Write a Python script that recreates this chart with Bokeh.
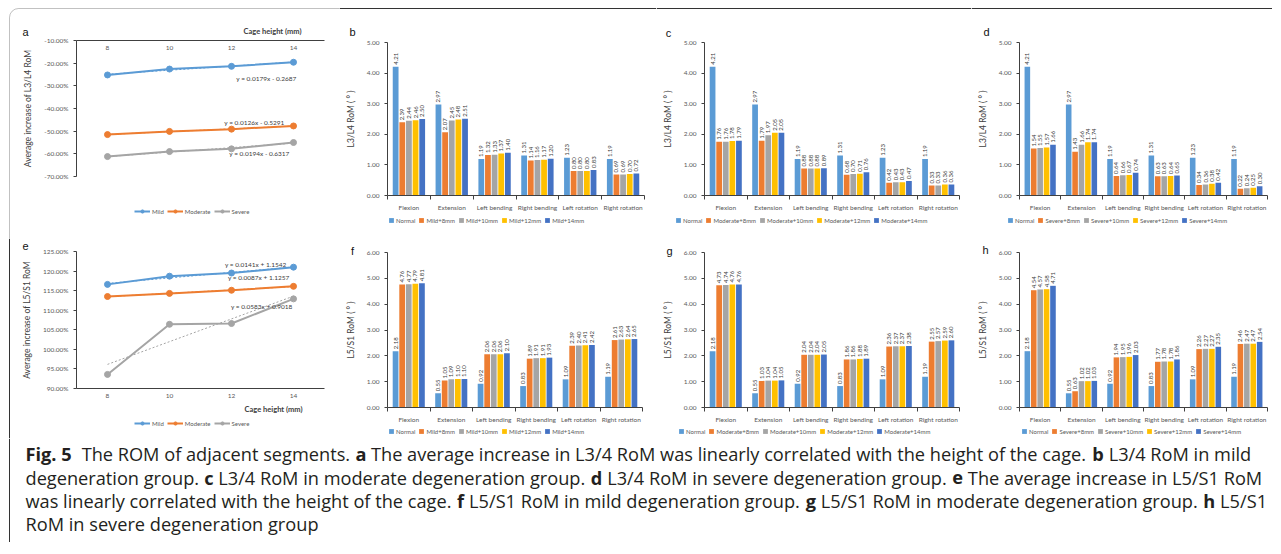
import numpy as np
from bokeh.plotting import figure
from bokeh.models import (Range1d, LinearAxis, FixedTicker, NumeralTickFormatter,
                          Legend, LegendItem, Label, ColumnDataSource, Span, BoxAnnotation)
from bokeh.layouts import row, column
from bokeh.embed import file_html
from bokeh.resources import INLINE
from bokeh.core.properties import value

FONT = "Lato"

# ---------------- data ----------------
cage_heights = ["8", "10", "12", "14"]
groups = ["Mild", "Moderate", "Severe"]
group_colors = ["#5B9BD5", "#ED7D31", "#A5A5A5"]

l34_increase_mild = [-0.252, -0.226, -0.214, -0.196]
l34_increase_moderate = [-0.515, -0.501, -0.491, -0.477]
l34_increase_severe = [-0.612, -0.590, -0.578, -0.550]
l34_equations = ["y = 0.0179x - 0.2687", "y = 0.0126x - 0.5291", "y = 0.0194x - 0.6317"]

l5s1_increase_mild = [1.166, 1.187, 1.195, 1.210]
l5s1_increase_moderate = [1.135, 1.143, 1.151, 1.161]
l5s1_increase_severe = [0.936, 1.064, 1.066, 1.129]
l5s1_equations = ["y = 0.0141x + 1.1542", "y = 0.0087x + 1.1257", "y = 0.0583x + 0.9018"]

motions = ["Flexion", "Extension", "Left bending", "Right bending", "Left rotation", "Right rotation"]
bar_colors = ["#5B9BD5", "#ED7D31", "#A5A5A5", "#FFC000", "#4472C4"]

l34_normal = [4.21, 2.97, 1.19, 1.31, 1.23, 1.19]
l34_mild_8 = [2.39, 2.07, 1.32, 1.14, 0.80, 0.69]
l34_mild_10 = [2.44, 2.45, 1.33, 1.16, 0.80, 0.69]
l34_mild_12 = [2.46, 2.48, 1.37, 1.17, 0.80, 0.70]
l34_mild_14 = [2.50, 2.51, 1.40, 1.20, 0.83, 0.72]

l34_moderate_8 = [1.76, 1.79, 0.88, 0.68, 0.42, 0.33]
l34_moderate_10 = [1.76, 1.97, 0.88, 0.70, 0.43, 0.33]
l34_moderate_12 = [1.78, 2.05, 0.88, 0.71, 0.43, 0.36]
l34_moderate_14 = [1.79, 2.05, 0.89, 0.76, 0.47, 0.36]

l34_severe_8 = [1.54, 1.43, 0.64, 0.63, 0.34, 0.22]
l34_severe_10 = [1.55, 1.66, 0.66, 0.63, 0.36, 0.24]
l34_severe_12 = [1.57, 1.74, 0.67, 0.64, 0.38, 0.25]
l34_severe_14 = [1.66, 1.74, 0.74, 0.65, 0.42, 0.30]

l5s1_normal = [2.18, 0.55, 0.92, 0.83, 1.09, 1.19]
l5s1_mild_8 = [4.76, 1.05, 2.06, 1.89, 2.39, 2.61]
l5s1_mild_10 = [4.77, 1.09, 2.06, 1.91, 2.40, 2.63]
l5s1_mild_12 = [4.79, 1.10, 2.06, 1.91, 2.41, 2.64]
l5s1_mild_14 = [4.81, 1.10, 2.10, 1.93, 2.42, 2.65]

l5s1_moderate_8 = [4.73, 1.03, 2.04, 1.86, 2.36, 2.55]
l5s1_moderate_10 = [4.74, 1.04, 2.04, 1.86, 2.37, 2.57]
l5s1_moderate_12 = [4.76, 1.04, 2.04, 1.88, 2.37, 2.59]
l5s1_moderate_14 = [4.76, 1.05, 2.05, 1.89, 2.38, 2.60]

l5s1_severe_8 = [4.54, 0.63, 1.94, 1.77, 2.26, 2.46]
l5s1_severe_10 = [4.57, 1.02, 1.95, 1.78, 2.27, 2.47]
l5s1_severe_12 = [4.58, 1.02, 1.96, 1.78, 2.27, 2.47]
l5s1_severe_14 = [4.71, 1.03, 2.03, 1.86, 2.35, 2.54]

bar_suffixes = ["+8mm", "+10mm", "+12mm", "+14mm"]

caption_lines = [
    [("Fig. 5", True), ("  The ROM of adjacent segments. ", False), ("a", True),
     (" The average increase in L3/4 RoM was linearly correlated with the height of the cage. ", False),
     ("b", True), (" L3/4 RoM in mild", False)],
    [("degeneration group. ", False), ("c", True), (" L3/4 RoM in moderate degeneration group. ", False),
     ("d", True), (" L3/4 RoM in severe degeneration group. ", False), ("e", True),
     (" The average increase in L5/S1 RoM", False)],
    [("was linearly correlated with the height of the cage. ", False), ("f", True),
     (" L5/S1 RoM in mild degeneration group. ", False), ("g", True),
     (" L5/S1 RoM in moderate degeneration group. ", False), ("h", True), (" L5/S1", False)],
    [("RoM in severe degeneration group", False)],
]

TXT = "#595959"
AX = "#404040"
BORDER = "#333333"


# ---------------- helpers ----------------
def setup_fig(x0, y0, w, h, xmap, ymap):
    """Figure whose frame covers the whole canvas; xmap/ymap tie two data values to page px."""
    px_lo, vx_lo, px_hi, vx_hi = xmap
    py_lo, vy_lo, py_hi, vy_hi = ymap
    sx = (px_hi - px_lo) / (vx_hi - vx_lo)
    sy = (py_lo - py_hi) / (vy_hi - vy_lo)
    xr = (vx_lo - (px_lo - x0) / sx, vx_hi + (x0 + w - px_hi) / sx)
    yr = (vy_lo - (y0 + h - py_lo) / sy, vy_hi + (py_hi - y0) / sy)
    p = figure(width=w, height=h, x_range=Range1d(*xr), y_range=Range1d(*yr),
               x_axis_type=None, y_axis_type=None, output_backend="svg",
               toolbar_location=None, min_border=0)
    p.outline_line_color = None
    g = dict(x0=x0, y0=y0, w=w, h=h, px_lo=px_lo, vx_lo=vx_lo, sx=sx,
             py_lo=py_lo, vy_lo=vy_lo, sy=sy)
    return p, g


def to_data(g, px, py):
    return (g["vx_lo"] + (px - g["px_lo"]) / g["sx"],
            g["vy_lo"] + (g["py_lo"] - py) / g["sy"])


def add_label(p, g, px, py, text, size="7px", color=TXT, align="center",
              style="normal", font=FONT):
    x, y = to_data(g, px, py)
    p.add_layout(Label(x=x, y=y, text=text, text_font=font, text_font_size=size,
                       text_color=color, text_align=align, text_baseline="middle",
                       text_font_style=style))


def style_axis(ax):
    ax.axis_line_color = AX
    ax.major_tick_line_color = AX
    ax.minor_tick_line_color = AX
    ax.major_label_text_font = FONT
    ax.major_label_text_font_size = "6.5px"
    ax.major_label_text_color = TXT
    ax.axis_label_text_font = FONT
    ax.axis_label_text_font_size = "8.5px"
    ax.axis_label_text_color = AX
    ax.axis_label_text_font_style = "normal"


def make_legend(items, g, left_px, center_py, glyph_w, glyph_h):
    return Legend(items=items, orientation="horizontal",
                  location=(left_px - g["x0"], g["y0"] + g["h"] - (center_py + 5)),
                  label_text_font=FONT, label_text_font_size="6px", label_text_color=TXT,
                  glyph_width=glyph_w, glyph_height=glyph_h, label_height=8, label_width=10,
                  label_standoff=2, spacing=3, padding=1, margin=0,
                  border_line_color=None, background_fill_alpha=0)


def frame_lines(p, g, top=False, left=False, corner=False):
    if corner:
        l, t = to_data(g, 10, 10)
        r, b = to_data(g, g["x0"] + g["w"] + 40, g["y0"] + g["h"] + 40)
        p.add_layout(BoxAnnotation(left=l, right=r, top=t, bottom=b, fill_alpha=0,
                                   line_color=BORDER, line_width=1, border_radius=9))
        return
    if top:
        p.add_layout(Span(location=to_data(g, 0, 10)[1], dimension="width",
                          line_color=BORDER, line_width=1))
    if left:
        p.add_layout(Span(location=to_data(g, 10, 0)[0], dimension="height",
                          line_color=BORDER, line_width=1))


def line_panel(letter, letter_pos, box, xpx, ypx, yvals, yticks, series, equations,
               eq_pos, ylabel, axis_top, cage_pos, legend_pos):
    x0, y0, w, h = box
    vtop, vbase = yvals
    p, g = setup_fig(x0, y0, w, h, (xpx[0], 0, xpx[1], len(cage_heights)),
                     (ypx[1], vbase, ypx[0], vtop))
    xs = np.arange(len(cage_heights)) + 0.5
    items = []
    for vals, name, col in zip(series, groups, group_colors):
        coef = np.polyfit(xs, vals, 1)
        p.line(xs, np.polyval(coef, xs), line_color=col, line_width=1, line_dash="2 2")
        lr = p.line(xs, vals, line_color=col, line_width=2)
        sr = p.scatter(xs, vals, size=6, fill_color=col, line_color=col)
        items.append(LegendItem(label=name, renderers=[lr, sr]))
    xa = LinearAxis(ticker=FixedTicker(ticks=list(xs), minor_ticks=[]),
                    major_label_overrides={float(x): c for x, c in zip(xs, cage_heights)},
                    fixed_location=vtop if axis_top else vbase, bounds=(0, len(cage_heights)))
    style_axis(xa)
    xa.major_tick_out = 0
    xa.major_tick_in = 0
    xa.major_label_standoff = 5
    p.add_layout(xa, "below")
    ya = LinearAxis(ticker=FixedTicker(ticks=yticks, minor_ticks=[]),
                    formatter=NumeralTickFormatter(format="0.00%"), axis_label=ylabel,
                    bounds=(vbase, vtop), fixed_location=0)
    style_axis(ya)
    ya.major_tick_out = 3
    ya.major_tick_in = 0
    ya.axis_label_standoff = 8
    p.add_layout(ya, "left")
    p.add_layout(make_legend(items, g, legend_pos[0], legend_pos[1], 16, 8))
    for eq, (px, py) in zip(equations, eq_pos):
        add_label(p, g, px, py, eq, size="6.5px", color=AX, align="right")
    add_label(p, g, cage_pos[0], cage_pos[1], "Cage height (mm)", size="7.5px",
              color=AX, align="right", style="bold")
    add_label(p, g, letter_pos[0], letter_pos[1], letter, size="11px", color="#111111",
              font="Liberation Sans")
    return p, g


def bar_panel(letter, letter_pos, box, xpx, ypx, ymax, series, labels, ylabel, legend_pos):
    x0, y0, w, h = box
    p, g = setup_fig(x0, y0, w, h, (xpx[0], 0, xpx[1], len(motions)), (ypx[1], 0, ypx[0], ymax))
    idx = np.arange(len(motions)) + 0.5
    offsets = [-0.31, -0.155, 0.0, 0.155, 0.31]
    items = []
    for vals, lab, col, off in zip(series, labels, bar_colors, offsets):
        src = ColumnDataSource(dict(x=idx + off, top=vals, txt=[f"{v:.2f}" for v in vals]))
        r = p.vbar(x="x", top="top", bottom=0, width=0.135, source=src, fill_color=col,
                   line_color=None)
        p.text(x="x", y="top", text="txt", source=src, angle=np.pi / 2, text_align="left",
               text_baseline="middle", y_offset=-2, text_font=value(FONT),
               text_font_size="6px", text_color=AX)
        items.append(LegendItem(label=lab, renderers=[r]))
    xa = LinearAxis(ticker=FixedTicker(ticks=list(idx), minor_ticks=list(range(len(motions) + 1))),
                    major_label_overrides={float(x): m for x, m in zip(idx, motions)},
                    fixed_location=0, bounds=(0, len(motions)))
    style_axis(xa)
    xa.major_tick_out = 0
    xa.major_tick_in = 0
    xa.minor_tick_out = 4
    xa.minor_tick_in = 0
    xa.major_label_standoff = 4
    p.add_layout(xa, "below")
    ya = LinearAxis(ticker=FixedTicker(ticks=list(range(int(ymax) + 1)), minor_ticks=[]),
                    formatter=NumeralTickFormatter(format="0.00"), axis_label=ylabel,
                    bounds=(0, ymax), fixed_location=0)
    style_axis(ya)
    ya.major_tick_out = 3
    ya.major_tick_in = 0
    ya.axis_label_standoff = 8
    p.add_layout(ya, "left")
    p.add_layout(make_legend(items, g, legend_pos[0], legend_pos[1], 6, 6))
    add_label(p, g, letter_pos[0], letter_pos[1], letter, size="11px", color="#111111",
              font="Liberation Sans")
    return p, g


# approximate advance widths (em) used only to place bold words inside the caption
W_REG = {' ': 0.26, '.': 0.267, '/': 0.371, 'a': 0.556, 'b': 0.613, 'c': 0.48, 'd': 0.613,
         'e': 0.561, 'f': 0.336, 'g': 0.546, 'h': 0.614, 'i': 0.258, 'j': 0.258, 'k': 0.53,
         'l': 0.258, 'm': 0.929, 'n': 0.614, 'o': 0.601, 'p': 0.613, 'q': 0.613, 'r': 0.409,
         's': 0.477, 't': 0.353, 'u': 0.614, 'v': 0.501, 'w': 0.772, 'x': 0.524, 'y': 0.501,
         'z': 0.468, 'A': 0.633, 'B': 0.647, 'C': 0.631, 'D': 0.73, 'E': 0.556, 'F': 0.515,
         'G': 0.723, 'H': 0.738, 'I': 0.279, 'L': 0.52, 'M': 0.907, 'O': 0.779, 'R': 0.618,
         'S': 0.55, 'T': 0.553}
W_BOLD = {' ': 0.26, '.': 0.286, 'F': 0.571, 'i': 0.311, 'g': 0.564, 'a': 0.593, 'b': 0.639,
          'c': 0.514, 'd': 0.639, 'e': 0.595, 'f': 0.406, 'h': 0.659}


def text_width(s, bold, size):
    tab = W_BOLD if bold else W_REG
    return sum(tab.get(ch, 0.572 if ch.isdigit() else 0.55) for ch in s) * size


def caption_fig(x0, y0, w, h, text_x, line_ys, size):
    p, g = setup_fig(x0, y0, w, h, (x0, 0, x0 + w, w), (y0 + h, 0, y0, h))
    for segs, ly in zip(caption_lines, line_ys):
        x = text_x
        for s, bold in segs:
            lead = len(s) - len(s.lstrip(" "))
            x += text_width(" " * lead, False, size)
            core = s.strip(" ")
            px, py = to_data(g, x, ly)
            p.add_layout(Label(x=px, y=py, text=core, text_font="Open Sans",
                               text_font_size=f"{size}px", text_color="#231f20",
                               text_font_style="bold" if bold else "normal",
                               text_baseline="middle", text_align="left"))
            x += text_width(core, bold, size)
            trail = len(s) - len(s.rstrip(" "))
            x += text_width(" " * trail, False, size)
    return p, g


# ---------------- layout geometry (page px; layout origin measured at page (1, 2)) ----------------
TOP = (2, 238)
BOT = (240, 200)
COLS = [(1, 339), (340, 317), (657, 315), (972, 301)]


def box(col, rw):
    return (COLS[col][0], rw[0], COLS[col][1], rw[1])


pa, ga = line_panel("a", (26, 33), box(0, TOP), (77, 325), (42, 178), (-0.10, -0.70),
                    [-0.1, -0.2, -0.3, -0.4, -0.5, -0.6, -0.7],
                    [l34_increase_mild, l34_increase_moderate, l34_increase_severe],
                    l34_equations, [(297, 80), (285, 124), (290, 155)],
                    "Average increase of L3/L4 RoM", True, (302, 33), (135, 212))
pe, ge = line_panel("e", (26, 247), box(0, BOT), (77, 325), (253, 390), (1.25, 0.90),
                    [0.90, 0.95, 1.00, 1.05, 1.10, 1.15, 1.20, 1.25],
                    [l5s1_increase_mild, l5s1_increase_moderate, l5s1_increase_severe],
                    l5s1_equations, [(287, 266), (290, 279), (293, 308)],
                    "Average increase of L5/S1 RoM", False, (303, 411), (135, 424))

Y34 = "L3/L4 RoM ( ° )"
Y51 = "L5/S1 RoM ( ° )"
pb, gb = bar_panel("b", (353, 33), box(1, TOP), (388, 645), (44, 197), 5,
                   [l34_normal, l34_mild_8, l34_mild_10, l34_mild_12, l34_mild_14],
                   ["Normal"] + ["Mild" + s for s in bar_suffixes], Y34, (389, 221))
pc, gc = bar_panel("c", (669, 34), box(2, TOP), (705, 960), (44, 197), 5,
                   [l34_normal, l34_moderate_8, l34_moderate_10, l34_moderate_12, l34_moderate_14],
                   ["Normal"] + ["Moderate" + s for s in bar_suffixes], Y34, (676, 221))
pd_, gd = bar_panel("d", (987, 33), box(3, TOP), (1020, 1268), (44, 197), 5,
                    [l34_normal, l34_severe_8, l34_severe_10, l34_severe_12, l34_severe_14],
                    ["Normal"] + ["Severe" + s for s in bar_suffixes], Y34, (1008, 221))

pf, gf = bar_panel("f", (353, 252), box(1, BOT), (388, 643), (254, 409), 6,
                   [l5s1_normal, l5s1_mild_8, l5s1_mild_10, l5s1_mild_12, l5s1_mild_14],
                   ["Normal"] + ["Mild" + s for s in bar_suffixes], Y51, (389, 432))
pg, gg = bar_panel("g", (670, 252), box(2, BOT), (705, 960), (254, 409), 6,
                   [l5s1_normal, l5s1_moderate_8, l5s1_moderate_10, l5s1_moderate_12, l5s1_moderate_14],
                   ["Normal"] + ["Moderate" + s for s in bar_suffixes], Y51, (679, 432))
ph, gh = bar_panel("h", (986, 251), box(3, BOT), (1020, 1268), (254, 409), 6,
                   [l5s1_normal, l5s1_severe_8, l5s1_severe_10, l5s1_severe_12, l5s1_severe_14],
                   ["Normal"] + ["Severe" + s for s in bar_suffixes], Y51, (1022, 432))

cap, gcap = caption_fig(1, 440, 1272, 104, 26, [455, 479, 502, 525.5], 18.2)

# figure frame: rounded top-left corner, top rule, left rule
frame_lines(pa, ga, corner=True)
for p_, g_ in [(pb, gb), (pc, gc), (pd_, gd)]:
    frame_lines(p_, g_, top=True)
frame_lines(pe, ge, left=True)
frame_lines(cap, gcap, left=True)

layout = column(row(pa, pb, pc, pd_), row(pe, pf, pg, ph), cap)

open("out.html", "w").write(file_html(layout, INLINE))
